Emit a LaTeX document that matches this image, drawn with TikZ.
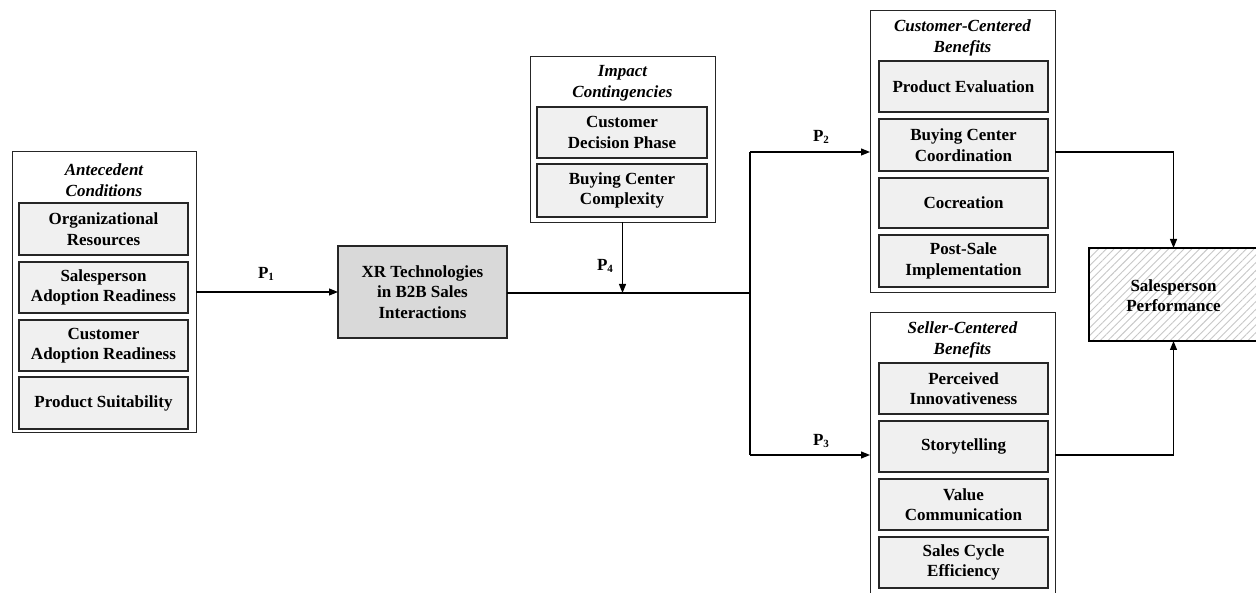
\documentclass[tikz,border=0pt]{standalone}
\usepackage{fontspec}
\setmainfont{Liberation Serif}
\usetikzlibrary{arrows.meta,patterns.meta}
\newcommand{\plsub}[1]{\raisebox{-0.35ex}{\fontsize{11}{12}\selectfont\bfseries #1}}
\begin{document}
\begin{tikzpicture}[x=1pt,y=-1pt,
  every node/.style={inner sep=0pt,outer sep=0pt},
  txt/.style={font=\fontsize{17}{20.5}\selectfont\bfseries,align=center},
  ttl/.style={font=\fontsize{17}{20.5}\selectfont\bfseries\itshape,align=center},
  outerbox/.style={draw=black!85,line width=1pt},
  innerbox/.style={txt,draw=black!85,fill=black!6,line width=1.3pt},
  arr/.style={line width=1.1pt,-{Triangle[length=9pt,width=7pt]}},
  mainline/.style={line width=1.9pt},
  plab/.style={font=\fontsize{17}{18}\selectfont\bfseries}
]
\useasboundingbox (0,0) rectangle (1256,593);
% Antecedent Conditions
\node[outerbox,minimum width=184pt,minimum height=281pt] (ant) at (104,292.5) {};
\node[ttl] (antT) at (104,180) {Antecedent\\Conditions};
\node[innerbox,minimum width=169pt,minimum height=52pt] (ant1) at (103.5,229) {Organizational\\Resources};
\node[innerbox,minimum width=169pt,minimum height=51pt] (ant2) at (103.5,287.5) {Salesperson\\Adoption Readiness};
\node[innerbox,minimum width=169pt,minimum height=51pt] (ant3) at (103.5,345.5) {Customer\\Adoption Readiness};
\node[innerbox,minimum width=169pt,minimum height=52pt] (ant4) at (103.5,403) {Product Suitability};
% XR
\node[txt,draw=black!85,fill=black!15,line width=1.3pt,minimum width=169pt,minimum height=92pt] (xr) at (422.5,292) {XR Technologies\\in B2B Sales\\Interactions};
% Impact Contingencies
\node[outerbox,minimum width=185pt,minimum height=166pt] (imp) at (622.5,139.5) {};
\node[ttl] (impT) at (622.5,83) {Impact\\Contingencies};
\node[innerbox,minimum width=170pt,minimum height=51pt] (imp1) at (622,132.5) {Customer\\Decision Phase};
\node[innerbox,minimum width=170pt,minimum height=53pt] (imp2) at (622,190.5) {Buying Center\\Complexity};
% Customer-Centered Benefits
\node[outerbox,minimum width=185pt,minimum height=282pt] (cust) at (962.5,152) {};
\node[ttl] (custT) at (962.5,38) {Customer-Centered\\Benefits};
\node[innerbox,minimum width=169pt,minimum height=51pt] (cust1) at (963.5,86.5) {Product Evaluation};
\node[innerbox,minimum width=169pt,minimum height=52pt] (cust2) at (963.5,145) {Buying Center\\Coordination};
\node[innerbox,minimum width=169pt,minimum height=50pt] (cust3) at (963.5,203) {Cocreation};
\node[innerbox,minimum width=169pt,minimum height=52pt] (cust4) at (963.5,261) {Post-Sale\\Implementation};
% Seller-Centered Benefits
\node[outerbox,minimum width=185pt,minimum height=282pt] (sell) at (962.5,454) {};
\node[ttl] (sellT) at (962.5,340) {Seller-Centered\\Benefits};
\node[innerbox,minimum width=169pt,minimum height=51pt] (sell1) at (963.5,388.5) {Perceived\\Innovativeness};
\node[innerbox,minimum width=169pt,minimum height=51pt] (sell2) at (963.5,446.5) {Storytelling};
\node[innerbox,minimum width=169pt,minimum height=51pt] (sell3) at (963.5,504.5) {Value\\Communication};
\node[innerbox,minimum width=169pt,minimum height=51pt] (sell4) at (963.5,562.5) {Sales Cycle\\Efficiency};
% Salesperson Performance
\node[txt,draw=black,line width=2.6pt,minimum width=169pt,minimum height=93pt,
      pattern={Lines[angle=45,distance=5.5pt,line width=0.9pt]},pattern color=black!22] (sp) at (1173.5,294.5) {};
\node[txt] (spT) at (1173.5,295.5) {Salesperson\\Performance};
% junctions
\coordinate (jmid) at (750,293);
\coordinate (jtop) at (750,152);
\coordinate (jbot) at (750,455);
% connectors
\draw[arr] (ant.east |- xr.west) -- (xr.west);
\draw[mainline] (xr.east |- jmid) -- (jmid);
\draw[mainline] (jtop) -- (jbot);
\draw[arr] (jtop) -- (jtop -| cust.west);
\draw[arr] (jbot) -- (jbot -| sell.west);
\draw[arr] (imp.south) -- (imp.south |- jmid);
\draw[arr] (jtop -| cust.east) -- (jtop -| sp.north) -- (sp.north);
\draw[arr] (jbot -| sell.east) -- (jbot -| sp.south) -- (sp.south);
% labels
\node[plab] (p1) at (266,274) {P\plsub{1}};
\node[plab] (p2) at (821,137) {P\plsub{2}};
\node[plab] (p3) at (821,441) {P\plsub{3}};
\node[plab] (p4) at (605,266) {P\plsub{4}};
\end{tikzpicture}
\end{document}
